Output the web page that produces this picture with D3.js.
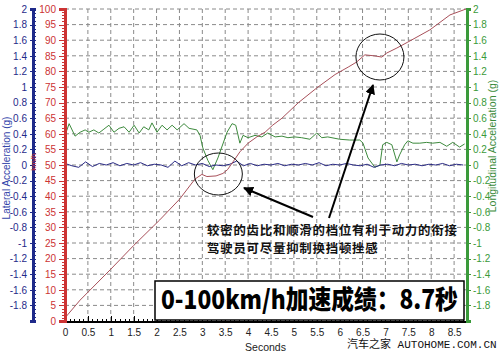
<!DOCTYPE html>
<html>
<head>
<meta charset="utf-8">
<style>
  body { margin: 0; background: #fff; }
  svg { display: block; font-family: "Liberation Sans", Arial, sans-serif; }
  .grid line { stroke: #8a8a8a; stroke-dasharray: 4,3; stroke-width: 1; }
  .axis path, .axis line { shape-rendering: crispEdges; }
</style>
</head>
<body>
<svg id="chart" width="500" height="353"></svg>
<script src="https://cdn.jsdelivr.net/npm/d3@7/dist/d3.min.js"></script>
<script>
// speed trace (km/h) vs seconds
const speedT = [0, 0.33, 1.0, 1.5, 2.07, 2.5, 2.84, 2.99, 3.1, 3.3, 3.45, 3.55, 3.67, 3.82, 4.0, 4.19, 4.37, 4.54, 4.74, 5.1, 5.5, 5.9, 6.2, 6.37, 6.55, 6.75, 6.92, 7.03, 7.25, 7.49, 7.97, 8.41, 8.76];
const speedV = [1, 6.7, 16.6, 24.2, 32.4, 39, 45.5, 47, 46.3, 46.5, 47.3, 48.5, 51, 54.2, 57, 59, 60.5, 62.8, 65, 70, 74.7, 79, 81.5, 83, 85.3, 85, 84.6, 85.9, 87.5, 89.4, 93.3, 98.1, 100];

// longitudinal acceleration (g)
const longT = [0, 0.09, 0.22, 0.33, 0.44, 0.52, 0.63, 0.74, 0.85, 0.96, 1.07, 1.18, 1.29, 1.40, 1.51, 1.62, 1.72, 1.83, 1.90, 2.01, 2.12, 2.23, 2.34, 2.45, 2.60, 2.71, 2.88, 2.95, 3.01, 3.12, 3.23, 3.34, 3.54, 3.65, 3.73, 3.82, 3.89, 4.00, 4.15, 4.30, 4.43, 4.59, 4.74, 4.87, 5.02, 5.17, 5.35, 5.50, 5.61, 5.74, 6.00, 6.22, 6.44, 6.51, 6.62, 6.77, 6.88, 6.94, 7.03, 7.14, 7.25, 7.31, 7.42, 7.49, 7.60, 7.75, 7.90, 8.03, 8.19, 8.34, 8.47, 8.62, 8.73];
const longG = [0.38, 0.53, 0.37, 0.42, 0.45, 0.42, 0.45, 0.41, 0.46, 0.51, 0.42, 0.47, 0.49, 0.42, 0.51, 0.41, 0.49, 0.45, 0.54, 0.42, 0.51, 0.45, 0.51, 0.45, 0.53, 0.47, 0.45, 0.38, 0.22, 0.06, -0.06, 0.09, 0.42, 0.53, 0.51, 0.28, 0.38, 0.35, 0.38, 0.36, 0.41, 0.36, 0.37, 0.35, 0.36, 0.35, 0.33, 0.41, 0.35, 0.36, 0.33, 0.32, 0.32, 0.28, 0.09, -0.03, 0.0, 0.26, 0.29, 0.26, 0.04, 0.13, 0.26, 0.31, 0.28, 0.28, 0.29, 0.28, 0.29, 0.24, 0.29, 0.23, 0.27];

// lateral acceleration (g)
const latT = [0, 0.15, 0.3, 0.45, 0.6, 0.75, 0.9, 1.05, 1.2, 1.35, 1.5, 1.65, 1.8, 1.95, 2.1, 2.25, 2.4, 2.55, 2.7, 2.85, 3.0, 3.15, 3.3, 3.45, 3.6, 3.75, 3.9, 4.05, 4.2, 4.35, 4.5, 4.65, 4.8, 4.95, 5.1, 5.25, 5.4, 5.55, 5.7, 5.85, 6.0, 6.15, 6.3, 6.45, 6.6, 6.75, 6.9, 7.05, 7.2, 7.35, 7.5, 7.65, 7.8, 7.95, 8.1, 8.25, 8.4, 8.55, 8.7];
const latG = [0.02, -0.01, -0.03, 0.04, -0.02, 0.02, 0.0, 0.03, -0.01, 0.02, 0.0, 0.03, -0.01, 0.01, 0.0, -0.03, 0.05, -0.01, 0.03, 0.0, 0.02, -0.02, 0.0, -0.01, 0.01, 0.05, -0.01, 0.02, -0.01, 0.01, 0.0, 0.02, -0.01, 0.01, 0.0, 0.02, 0.0, 0.03, -0.01, 0.01, 0.0, 0.02, 0.0, -0.01, 0.01, -0.03, 0.0, 0.01, -0.01, 0.02, 0.0, 0.01, -0.01, 0.01, 0.0, 0.02, -0.01, 0.01, 0.0];

// tick labels
const secTicks = [0, 0.5, 1, 1.5, 2, 2.5, 3, 3.5, 4, 4.5, 5, 5.5, 6, 6.5, 7, 7.5, 8, 8.5];
const speedTicks = [0, 5, 10, 15, 20, 25, 30, 35, 40, 45, 50, 55, 60, 65, 70, 75, 80, 85, 90, 95, 100];
const gTicks = [-1.8, -1.6, -1.4, -1.2, -1, -0.8, -0.6, -0.4, -0.2, 0, 0.2, 0.4, 0.6, 0.8, 1, 1.2, 1.4, 1.6, 1.8, 2];

const title = "0-100km/h加速成绩：8.7秒";
const note = ["较密的齿比和顺滑的档位有利于动力的衔接", "驾驶员可尽量抑制换挡顿挫感"];

const RED = "#cc3333", BLUE = "#1f2a8a", GREEN = "#3a9a3a";

const svg = d3.select("#chart");
const pLeft = 65, pRight = 466, pTop = 9, pBottom = 321;

const x = d3.scaleLinear().domain([0, 8.76]).range([pLeft, pRight]);
const ySpeed = d3.scaleLinear().domain([0, 100]).range([pBottom, pTop]);
const yG = d3.scaleLinear().domain([-2, 2]).range([pBottom, pTop]);

// grid
const grid = svg.append("g").attr("class", "grid");
grid.selectAll(".v").data(secTicks.filter(d => d > 0)).join("line")
  .attr("x1", d => x(d)).attr("x2", d => x(d)).attr("y1", pTop).attr("y2", pBottom);
grid.selectAll(".h").data(speedTicks.filter(d => d > 0)).join("line")
  .attr("x1", pLeft).attr("x2", pRight).attr("y1", d => ySpeed(d)).attr("y2", d => ySpeed(d));

// series
const line = (xs, ys, yScale) => d3.line().x((d, i) => x(xs[i])).y((d, i) => yScale(ys[i]))(xs);

svg.append("path").attr("d", line(longT, longG, yG))
  .attr("fill", "none").attr("stroke", "#3d8a3d").attr("stroke-width", 1);
svg.append("path").attr("d", line(latT, latG, yG))
  .attr("fill", "none").attr("stroke", "#2b2b85").attr("stroke-width", 1);
svg.append("path").attr("d", line(speedT, speedV, ySpeed))
  .attr("fill", "none").attr("stroke", "#a8505a").attr("stroke-width", 1);

// minor ticks: axis with no labels
function minor(g, axis) {
  g.call(axis.tickFormat(""));
  g.selectAll("text").remove();
}

// x axis
const xAx = svg.append("g").attr("class", "axis").attr("transform", `translate(0,${pBottom})`);
xAx.append("g").call(minor, d3.axisBottom(x).tickValues(d3.range(0, 8.76, 0.1)).tickSize(-2));
xAx.append("g").call(d3.axisBottom(x).tickValues(secTicks).tickSize(-5).tickPadding(8).tickFormat(d => d));
xAx.selectAll(".domain").attr("stroke", "#000").attr("stroke-width", 2);
xAx.selectAll("text").attr("font-size", 10).attr("fill", "#222");
xAx.selectAll("line").attr("stroke", "#000");

svg.append("text").attr("x", (pLeft + pRight) / 2).attr("y", 351)
  .attr("text-anchor", "middle").attr("font-size", 10.5).attr("fill", "#222").text("Seconds");

// speed axis (red)
const sAx = svg.append("g").attr("class", "axis").attr("transform", `translate(${pLeft},0)`);
sAx.append("g").call(minor, d3.axisLeft(ySpeed).tickValues(d3.range(0, 101, 1)).tickSize(3));
sAx.append("g").call(d3.axisLeft(ySpeed).tickValues(speedTicks).tickSize(6).tickPadding(3).tickFormat(d => d));
sAx.selectAll(".domain").attr("stroke", RED).attr("stroke-width", 2.5);
sAx.selectAll("line").attr("stroke", RED);
sAx.selectAll("text").attr("font-size", 10).attr("fill", RED);

// lateral axis (blue)
const lAx = svg.append("g").attr("class", "axis").attr("transform", "translate(33,0)");
lAx.append("g").call(minor, d3.axisLeft(yG).tickValues(d3.range(-2, 2.001, 0.05)).tickSize(-3));
lAx.append("g").call(d3.axisLeft(yG).tickValues(gTicks).tickSize(3).tickPadding(3).tickFormat(d => d));
lAx.selectAll(".domain").attr("stroke", BLUE).attr("stroke-width", 2.5);
lAx.selectAll("line").attr("stroke", BLUE);
lAx.selectAll("text").attr("font-size", 10).attr("fill", BLUE);

svg.append("text").attr("transform", "translate(10,168) rotate(-90)")
  .attr("text-anchor", "middle").attr("font-size", 10).attr("fill", "#3344aa")
  .text("Lateral Acceleration (g)");
svg.append("text").attr("transform", "translate(36,162) rotate(-90)")
  .attr("text-anchor", "middle").attr("font-size", 8).attr("fill", RED).text("km/h");

// longitudinal axis (green)
const gAx = svg.append("g").attr("class", "axis").attr("transform", `translate(${pRight + 1},0)`);
gAx.append("g").call(minor, d3.axisRight(yG).tickValues(d3.range(-2, 2.001, 0.05)).tickSize(2));
gAx.append("g").call(d3.axisRight(yG).tickValues(gTicks).tickSize(4).tickPadding(2).tickFormat(d => d));
gAx.selectAll(".domain").attr("stroke", GREEN).attr("stroke-width", 2.5);
gAx.selectAll("line").attr("stroke", GREEN);
gAx.selectAll("text").attr("font-size", 10).attr("fill", GREEN);

svg.append("text").attr("transform", "translate(496,146) rotate(-90)")
  .attr("text-anchor", "middle").attr("font-size", 10.5).attr("fill", "#3a8a3a")
  .text("Longitudinal Acceleration (g)");

// circles around the shift points
svg.append("ellipse").attr("cx", x(3.35)).attr("cy", 174).attr("rx", 24).attr("ry", 21)
  .attr("fill", "none").attr("stroke", "#111").attr("stroke-width", 1);
svg.append("ellipse").attr("cx", x(6.88)).attr("cy", 57).attr("rx", 24).attr("ry", 23)
  .attr("fill", "none").attr("stroke", "#111").attr("stroke-width", 1);

// arrows
svg.append("defs").append("marker").attr("id", "head")
  .attr("viewBox", "0 0 10 10").attr("refX", 9).attr("refY", 5)
  .attr("markerWidth", 5).attr("markerHeight", 5).attr("orient", "auto")
  .append("path").attr("d", "M0,0L10,5L0,10z").attr("fill", "#000");
[[313, 217, 244, 188], [329, 218, 373, 85]].forEach(a => {
  svg.append("line").attr("x1", a[0]).attr("y1", a[1]).attr("x2", a[2]).attr("y2", a[3])
    .attr("stroke", "#000").attr("stroke-width", 2).attr("marker-end", "url(#head)");
});

// annotation
svg.append("g").selectAll("text").data(note).join("text")
  .attr("x", 207).attr("y", (d, i) => 235 + i * 18)
  .attr("font-family", "'Noto Sans CJK SC', sans-serif").attr("font-weight", 700)
  .attr("font-size", 12.4).attr("letter-spacing", 0.8).attr("fill", "#111")
  .text(d => d);

// result box
svg.append("rect").attr("x", 155).attr("y", 281).attr("width", 309).attr("height", 39)
  .attr("fill", "#fff").attr("stroke", "#000").attr("stroke-width", 1.5);
const tt = svg.append("text")
  .attr("font-family", "'Noto Sans CJK SC', sans-serif").attr("font-weight", 900)
  .attr("font-size", 26).attr("fill", "#000").text(title);
const natural = tt.node().getComputedTextLength();
tt.attr("transform", `translate(161,309) scale(${297 / natural},1)`);

// watermark
svg.append("text").attr("x", 347).attr("y", 348)
  .attr("font-family", "'Liberation Mono', 'Noto Sans CJK SC', monospace")
  .attr("font-size", 11).attr("fill", "#111").text("汽车之家 AUTOHOME.COM.CN");
</script>
</body>
</html>
